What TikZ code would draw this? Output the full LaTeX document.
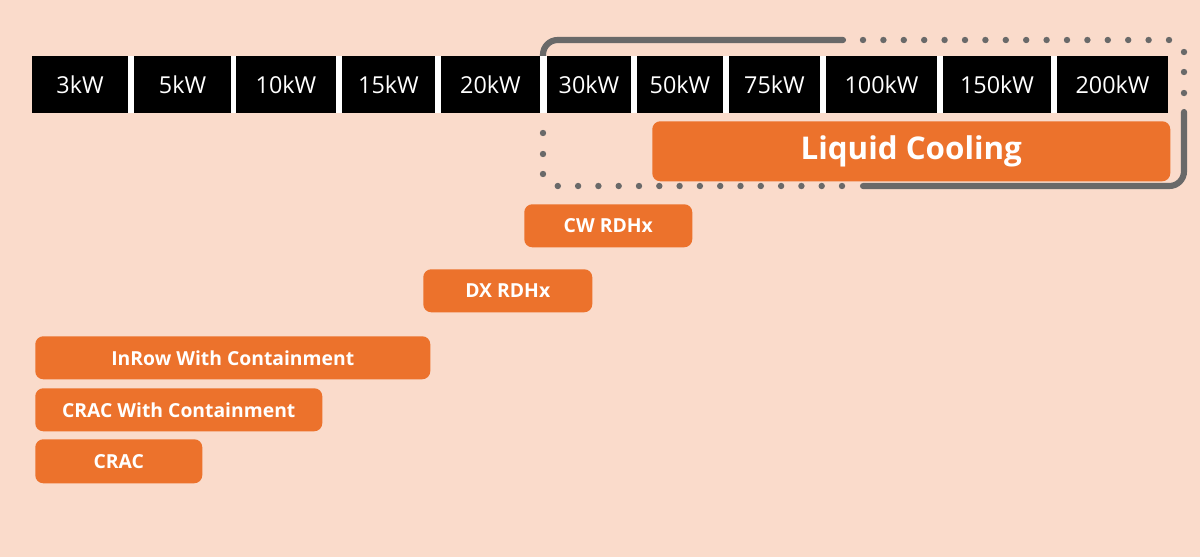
\documentclass[tikz,border=0pt]{standalone}
\usepackage{fontspec}
\setmainfont{Open Sans}
\usepackage{tikz}
\usetikzlibrary{positioning}
\definecolor{bgpeach}{HTML}{FADBCB}
\definecolor{cbOrange}{HTML}{EC722C}
\definecolor{frameg}{HTML}{696969}
\tikzset{
  kwcell/.style = {fill=black, text=white, inner sep=0pt, minimum height=42.75pt,
                   font=\fontsize{17.5}{18}\selectfont},
  obox/.style   = {fill=cbOrange, text=white, rounded corners=6pt, inner sep=0pt,
                   minimum height=32.25pt, anchor=north west,
                   font=\fontsize{14.5}{16}\selectfont\bfseries},
  frm/.style    = {draw=frameg, line width=4.6pt, line cap=round, rounded corners=11pt},
  dotf/.style   = {fill=frameg},
}
\newcommand{\dotr}{2.4pt}

\begin{document}
\begin{tikzpicture}[x=0.75pt,y=-0.75pt]
  \fill[bgpeach] (0,0) rectangle (1200,557);
  \useasboundingbox (0,0) rectangle (1200,557);
  % frame round the liquid range
  \draw[frm] (543,58) -- (543,40) -- (843,40);
  \draw[frm] (1184,112) -- (1184,186) -- (863,186);
  \foreach \i in {0,...,15}{\fill[dotf] ({863+20.4*\i},40) circle (\dotr);}
  \foreach \y in {52,72,93}{\fill[dotf] (1184,\y) circle (\dotr);}
  \foreach \i in {0,...,14}{\fill[dotf] ({842-20.3*\i},186) circle (\dotr);}
  \foreach \y in {133,154,174}{\fill[dotf] (543,\y) circle (\dotr);}
  % power scale
  \fill[white] (32,56) rectangle (1168,113);
  \foreach \nm/\l/\r/\t in {k3/32/128/3kW, k5/134/231/5kW, k10/236/336/10kW,
      k15/342/435/15kW, k20/441/540/20kW, k30/547/631/30kW, k50/637/723/50kW,
      k75/729/820/75kW, k100/826/937/100kW, k150/943/1051/150kW, k200/1057/1168/200kW}{
    \node[kwcell, minimum width={(\r-\l)*0.75pt}] (\nm) at ({(\l+\r)/2},84.5) {\t};
  }
  % cooling methods
  \node[obox, minimum width=388.5pt, minimum height=45pt,
        font=\fontsize{23.5}{26}\selectfont\bfseries] (liquid) at (652,121) {Liquid Cooling};
  \node[obox, minimum width=126pt] (cw) at (524,204) {CW RDHx};
  \node[obox, minimum width=126.75pt] (dx) at (423,269) {DX RDHx};
  \node[obox, minimum width=296.25pt] (inrow) at (35,336) {InRow With Containment};
  \node[obox, minimum width=215.25pt] (cracc) at (35,388) {CRAC With Containment};
  \node[obox, minimum width=125.25pt, minimum height=33pt] (crac) at (35,439) {CRAC};
\end{tikzpicture}
\end{document}
